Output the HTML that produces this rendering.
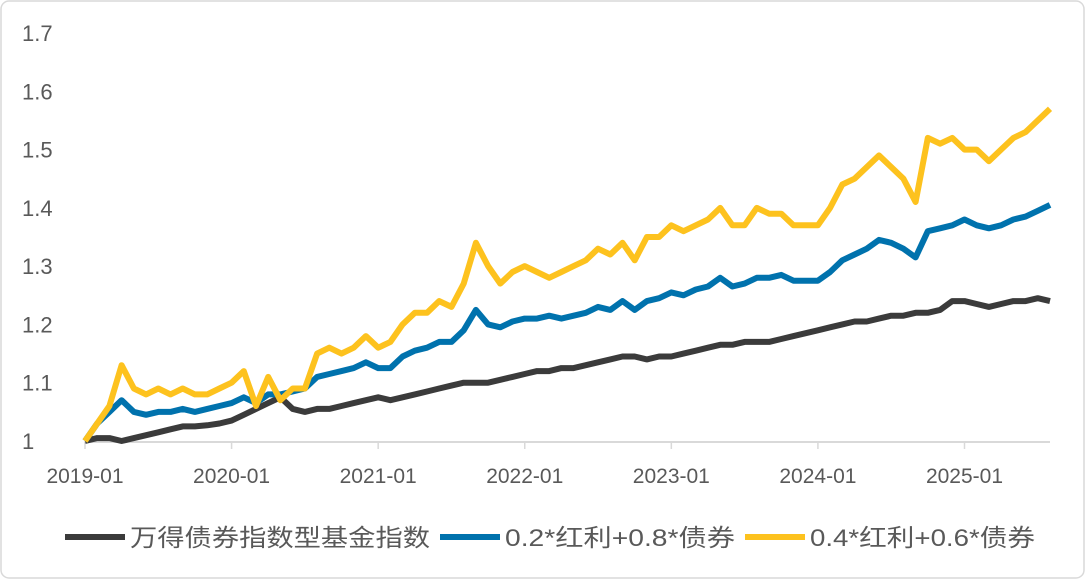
<!DOCTYPE html>
<html><head><meta charset="utf-8"><style>
body{margin:0;background:#fff;}
#c{position:absolute;left:0;top:0;width:1085px;height:579px;}
text{font-family:"Liberation Sans","Noto Sans CJK SC",sans-serif;fill:#595959;}
</style></head><body>
<svg id="c" width="1085" height="579" xmlns="http://www.w3.org/2000/svg">
<rect x="1" y="1" width="1083" height="577" rx="8" fill="#fff" stroke="#d9d9d9" stroke-width="1.5"/>
<g id="yaxis"></g>
<g id="xaxis"></g>
<g id="series"></g>
<g id="legend"></g>
</svg>
<script>
const yTicks=[1,1.1,1.2,1.3,1.4,1.5,1.6,1.7];
const yTickLabels=["1","1.1","1.2","1.3","1.4","1.5","1.6","1.7"];
const xTickMonths=[0,12,24,36,48,60,72];
const xTickLabels=["2019-01","2020-01","2021-01","2022-01","2023-01","2024-01","2025-01"];
const seriesNames=["万得债券指数型基金指数","0.2*红利+0.8*债券","0.4*红利+0.6*债券"];
const bondIndex=[1.0,1.005,1.005,1.0,1.005,1.01,1.015,1.02,1.025,1.025,1.027,1.03,1.035,1.045,1.055,1.065,1.075,1.055,1.05,1.055,1.055,1.06,1.065,1.07,1.075,1.07,1.075,1.08,1.085,1.09,1.095,1.10,1.10,1.10,1.105,1.11,1.115,1.12,1.12,1.125,1.125,1.13,1.135,1.14,1.145,1.145,1.14,1.145,1.145,1.15,1.155,1.16,1.165,1.165,1.17,1.17,1.17,1.175,1.18,1.185,1.19,1.195,1.20,1.205,1.205,1.21,1.215,1.215,1.22,1.22,1.225,1.24,1.24,1.235,1.23,1.235,1.24,1.24,1.245,1.24];
const mix28=[1.00,1.03,1.05,1.07,1.05,1.045,1.05,1.05,1.055,1.05,1.055,1.06,1.065,1.075,1.065,1.08,1.08,1.085,1.09,1.11,1.115,1.12,1.125,1.135,1.125,1.125,1.145,1.155,1.16,1.17,1.17,1.19,1.225,1.20,1.195,1.205,1.21,1.21,1.215,1.21,1.215,1.22,1.23,1.225,1.24,1.225,1.24,1.245,1.255,1.25,1.26,1.265,1.28,1.265,1.27,1.28,1.28,1.285,1.275,1.275,1.275,1.29,1.31,1.32,1.33,1.345,1.34,1.33,1.315,1.36,1.365,1.37,1.38,1.37,1.365,1.37,1.38,1.385,1.395,1.405];
const mix46=[1.00,1.03,1.06,1.13,1.09,1.08,1.09,1.08,1.09,1.08,1.08,1.09,1.10,1.12,1.06,1.11,1.07,1.09,1.09,1.15,1.16,1.15,1.16,1.18,1.16,1.17,1.20,1.22,1.22,1.24,1.23,1.27,1.34,1.30,1.27,1.29,1.30,1.29,1.28,1.29,1.30,1.31,1.33,1.32,1.34,1.31,1.35,1.35,1.37,1.36,1.37,1.38,1.40,1.37,1.37,1.40,1.39,1.39,1.37,1.37,1.37,1.40,1.44,1.45,1.47,1.49,1.47,1.45,1.41,1.52,1.51,1.52,1.50,1.50,1.48,1.50,1.52,1.53,1.55,1.57];
const colors=["#3b3b3b","#0072ad","#fdc21e"];
const NS="http://www.w3.org/2000/svg";
const x0=85,x1=1050,y0=441,yTop=33;
const lastIdx=79;
function xs(m){return x0+(x1-x0)*m/lastIdx;}
function ys(v){return y0-(v-1)/(0.7)*(y0-yTop);}
function mk(t,a,p){const e=document.createElementNS(NS,t);for(const k in a)e.setAttribute(k,a[k]);p.appendChild(e);return e;}
const ya=document.getElementById('yaxis');
yTicks.forEach((v,i)=>{const t=mk('text',{x:22,y:ys(v)+8,'font-size':22},ya);t.textContent=yTickLabels[i];

});
const xa=document.getElementById('xaxis');
const ax=mk('line',{x1:x0,y1:y0+1,x2:x1,y2:y0+1,stroke:'#d9d9d9','stroke-width':2},xa);


xTickMonths.forEach((m,i)=>{const l=mk('line',{x1:xs(m),y1:y0,x2:xs(m),y2:y0+8,stroke:'#d9d9d9','stroke-width':1.5},xa);


const t=mk('text',{x:xs(m),y:y0+42,'font-size':21,'text-anchor':'middle'},xa);t.textContent=xTickLabels[i];

});
const sg=document.getElementById('series');
[bondIndex,mix28,mix46].forEach((arr,si)=>{const d=arr.map((v,i)=>(i?'L':'M')+xs(i).toFixed(1)+','+ys(v).toFixed(1)).join(' ');
const p=mk('path',{d:d,fill:'none',stroke:colors[si],'stroke-width':6,'stroke-linejoin':'round'},sg);

});
const lg=document.getElementById('legend');
const legX=[65,440,745];
const legW=[300,230,225];
seriesNames.forEach((n,i)=>{const l=mk('line',{x1:legX[i],y1:537,x2:legX[i]+60,y2:537,stroke:colors[i],'stroke-width':6},lg);


const t=mk('text',{x:legX[i]+65,y:546,'font-size':24,textLength:legW[i],lengthAdjust:'spacingAndGlyphs'},lg);t.textContent=n;

});
</script>
</body></html>
